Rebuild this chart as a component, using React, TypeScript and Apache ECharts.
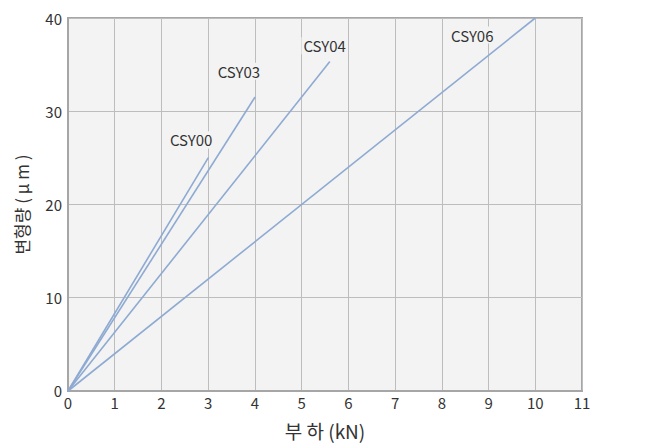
import React, { useEffect, useRef } from "react";
import * as echarts from "echarts";

const seriesNames = ["CSY00", "CSY03", "CSY04", "CSY06"];
const endLoads = [3, 4, 5.6, 10];
const endDeforms = [25, 31.5, 35.3, 40];
const labelOffsets: [number, number][] = [[-17, -18], [-16, -26], [-5, -16], [-63, 17]];
const xTicks = [0, 1, 2, 3, 4, 5, 6, 7, 8, 9, 10, 11];
const yTicks = [0, 10, 20, 30, 40];

const FONT = "'Noto Sans CJK KR', 'Noto Sans', sans-serif";
const LINE_COLOR = "#8eaad2";

export default function App() {
  const ref = useRef<HTMLDivElement>(null);
  useEffect(() => {
    if (!ref.current) return;
    const chart = echarts.init(ref.current, undefined, { renderer: "svg" });
    const series = seriesNames.map((name, i) => ({
      type: "line",
      name,
      symbol: "circle",
      symbolSize: 1,
      lineStyle: { color: LINE_COLOR, width: 1.6 },
      itemStyle: { color: LINE_COLOR },
      z: 3,
      data: [
        [0, 0],
        {
          value: [endLoads[i], endDeforms[i]],
          label: {
            show: true,
            formatter: name,
            position: "inside",
            offset: labelOffsets[i],
            color: "#333",
            fontSize: 15,
            fontFamily: FONT,
            backgroundColor: "#f3f3f3",
            padding: [1, 2],
          },
        },
      ],
    }));
    chart.setOption({
      animation: false,
      grid: {
        left: 68,
        right: 70,
        top: 18,
        bottom: 52,
        show: true,
        backgroundColor: "#f3f3f3",
        borderColor: "#a6a6a6",
        borderWidth: 2,
      },
      xAxis: {
        type: "value",
        min: xTicks[0],
        max: xTicks[xTicks.length - 1],
        interval: 1,
        name: "부 하 (kN)",
        nameLocation: "middle",
        nameGap: 30,
        nameTextStyle: { fontSize: 19, color: "#333", fontFamily: FONT },
        axisLine: { show: true, lineStyle: { color: "#a6a6a6", width: 2 } },
        axisTick: { show: false },
        axisLabel: { color: "#333", fontSize: 15, fontFamily: FONT, margin: 4 },
        splitLine: { show: true, lineStyle: { color: "#bdbdbd", width: 1 } },
      },
      yAxis: {
        type: "value",
        min: yTicks[0],
        max: yTicks[yTicks.length - 1],
        interval: 10,
        name: "변형량 ( μ m )",
        nameLocation: "middle",
        nameGap: 38,
        nameRotate: 90,
        nameTextStyle: { fontSize: 17, color: "#333", fontFamily: FONT },
        axisLine: { show: true, lineStyle: { color: "#a6a6a6", width: 2 } },
        axisTick: { show: false },
        axisLabel: { color: "#333", fontSize: 15, fontFamily: FONT, margin: 6 },
        splitLine: { show: true, lineStyle: { color: "#bdbdbd", width: 1 } },
      },
      series,
    });
    return () => chart.dispose();
  }, []);
  return <div ref={ref} style={{ width: 652, height: 445, position: "absolute", left: 0, top: 0 }} />;
}
